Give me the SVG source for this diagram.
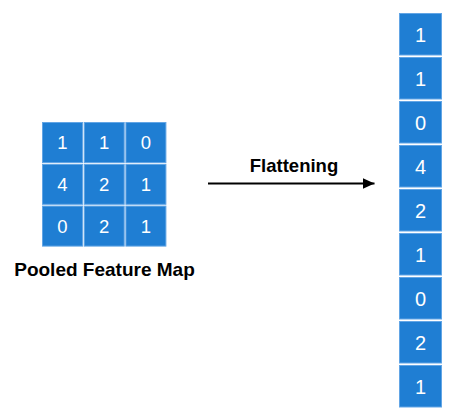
<svg xmlns="http://www.w3.org/2000/svg" width="459" height="420" viewBox="0 0 459 420">
<defs>
<style>
.cell{fill:#1f7ed3;stroke:#62a5e5;stroke-width:1}
.num{font-family:"Liberation Sans",Arial,sans-serif;fill:#ffffff;text-anchor:middle}
.g{font-size:18.5px}
.c{font-size:20px}
.lbl{font-family:"Liberation Sans",Arial,sans-serif;font-weight:bold;fill:#000000;text-anchor:middle}
.conn{stroke:#000000;stroke-width:2;fill:none}
</style>
<marker id="arrow" markerUnits="userSpaceOnUse" markerWidth="13" markerHeight="12" refX="12" refY="6" orient="auto">
<path d="M0,0.5 L12,6 L0,11.5 Z" fill="#000000"/>
</marker>
</defs>
<rect width="459" height="420" fill="#ffffff"/>
<g id="pooled-map">
<rect class="cell" x="42.5" y="122.5" width="40" height="40"/>
<rect class="cell" x="84.2" y="122.5" width="40" height="40"/>
<rect class="cell" x="125.9" y="122.5" width="40" height="40"/>
<rect class="cell" x="42.5" y="164.3" width="40" height="40"/>
<rect class="cell" x="84.2" y="164.3" width="40" height="40"/>
<rect class="cell" x="125.9" y="164.3" width="40" height="40"/>
<rect class="cell" x="42.5" y="206.1" width="40" height="40"/>
<rect class="cell" x="84.2" y="206.1" width="40" height="40"/>
<rect class="cell" x="125.9" y="206.1" width="40" height="40"/>
<text class="num g" x="62.5" y="149.2">1</text>
<text class="num g" x="104.2" y="149.2">1</text>
<text class="num g" x="145.9" y="149.2">0</text>
<text class="num g" x="62.5" y="191">4</text>
<text class="num g" x="104.2" y="191">2</text>
<text class="num g" x="145.9" y="191">1</text>
<text class="num g" x="62.5" y="232.8">0</text>
<text class="num g" x="104.2" y="232.8">2</text>
<text class="num g" x="145.9" y="232.8">1</text>
<text class="lbl" x="104.5" y="276" font-size="19">Pooled Feature Map</text>
</g>
<g id="flattened-column">
<rect class="cell" x="399.5" y="13.5" width="42" height="41.5"/>
<rect class="cell" x="399.5" y="57.5" width="42" height="41.5"/>
<rect class="cell" x="399.5" y="101.5" width="42" height="41.5"/>
<rect class="cell" x="399.5" y="145.5" width="42" height="41.5"/>
<rect class="cell" x="399.5" y="189.5" width="42" height="41.5"/>
<rect class="cell" x="399.5" y="233.5" width="42" height="41.5"/>
<rect class="cell" x="399.5" y="277.5" width="42" height="41.5"/>
<rect class="cell" x="399.5" y="321.5" width="42" height="41.5"/>
<rect class="cell" x="399.5" y="365.5" width="42" height="41.5"/>
<text class="num c" x="420.5" y="41.5">1</text>
<text class="num c" x="420.5" y="85.5">1</text>
<text class="num c" x="420.5" y="129.5">0</text>
<text class="num c" x="420.5" y="173.5">4</text>
<text class="num c" x="420.5" y="217.5">2</text>
<text class="num c" x="420.5" y="261.5">1</text>
<text class="num c" x="420.5" y="305.5">0</text>
<text class="num c" x="420.5" y="349.5">2</text>
<text class="num c" x="420.5" y="393.5">1</text>
</g>
<g id="connectors">
<line class="conn" x1="208" y1="183.5" x2="374.5" y2="183.5" marker-end="url(#arrow)"/>
<text class="lbl" x="294" y="171.5" font-size="18.5">Flattening</text>
</g>
</svg>
